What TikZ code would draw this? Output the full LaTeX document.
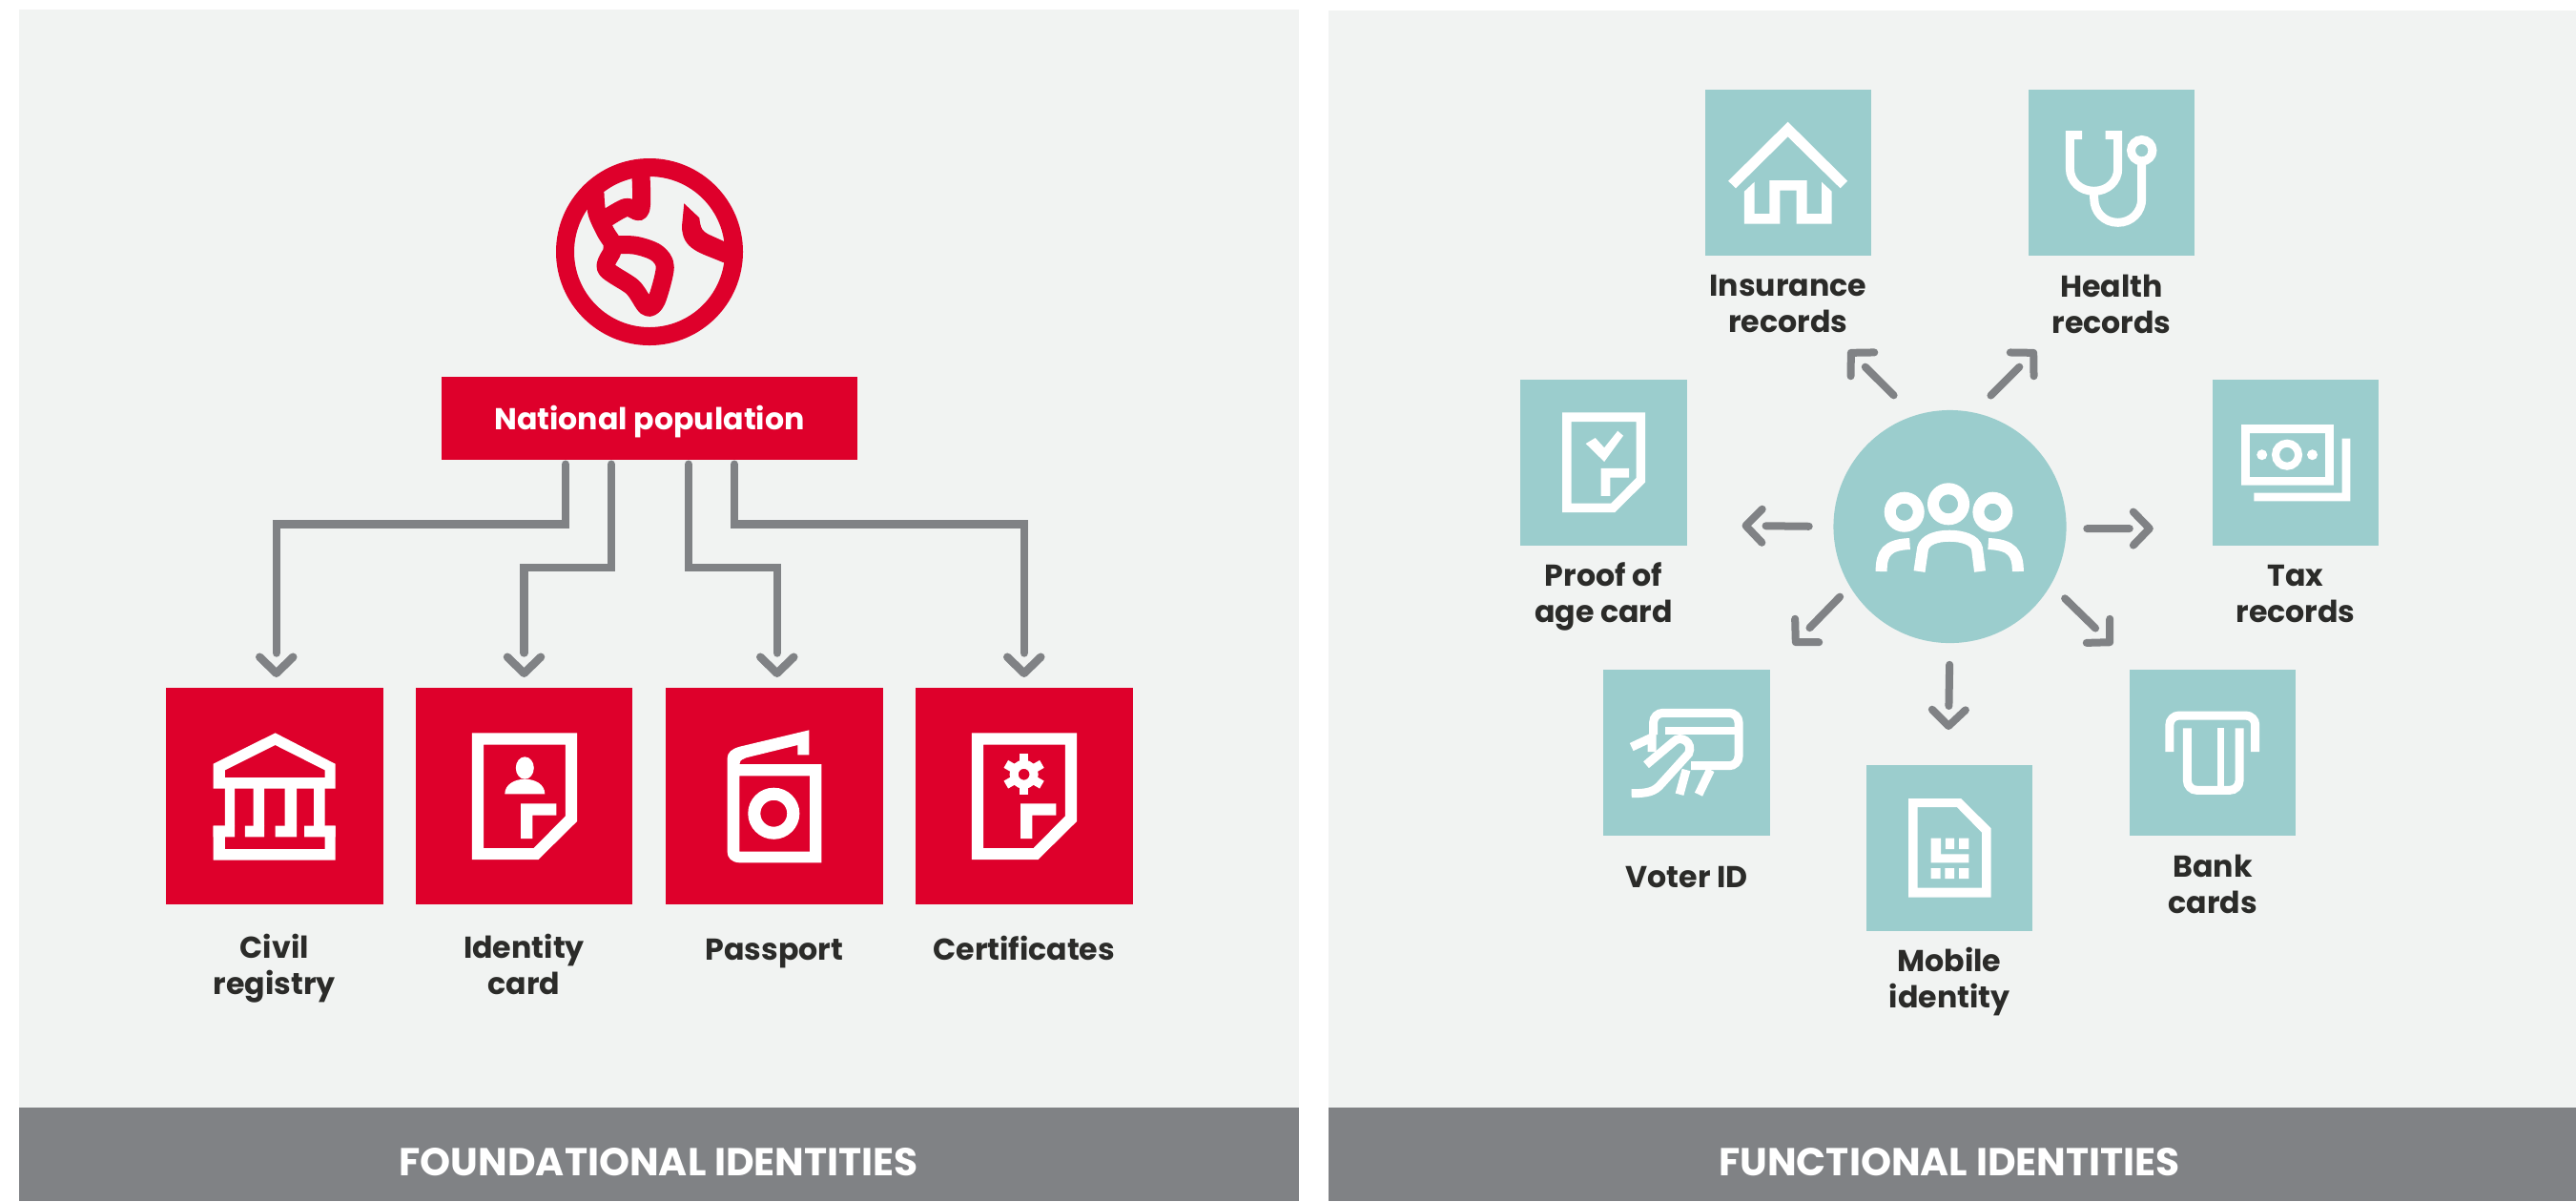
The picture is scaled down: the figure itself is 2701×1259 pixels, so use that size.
\documentclass[tikz,border=0pt]{standalone}
\usepackage{fontspec}
\setmainfont{Poppins}
\usetikzlibrary{arrows.meta, calc, positioning}

\definecolor{panelGray}{HTML}{F1F3F2}
\definecolor{barGray}{HTML}{808285}
\definecolor{idRed}{HTML}{DE002B}
\definecolor{idTeal}{HTML}{9BCDCD}
\definecolor{inkBlack}{HTML}{2B2B29}

\begin{document}
\begin{tikzpicture}[
	x=0.01cm, y=-0.01cm,
	barText/.style={text=white, inner sep=0, font=\bfseries\fontsize{11.6}{13}\selectfont},
	redBox/.style={fill=idRed, minimum size=2.275cm, inner sep=0},
	tealBox/.style={fill=idTeal, minimum size=1.74cm, inner sep=0},
	caption/.style={text=inkBlack, align=center, inner sep=0, font=\bfseries\fontsize{9}{10.8}\selectfont},
	glyph/.style={fill=white, even odd rule},
	glyphLine/.style={draw=white, line width=0.09cm},
	landLine/.style={draw=idRed, line width=0.19cm, line cap=round, line join=round},
	link/.style={draw=barGray, line width=0.085cm, line cap=round, shorten <=0.04cm, shorten >=0.1cm, -{. [sep=0.14cm] Straight Barb[round, length=0.17cm, width=0.35cm]}},
	spoke/.style={draw=barGray, line width=0.08cm, line cap=round, -{. [sep=0.14cm] Straight Barb[round, length=0.17cm, width=0.35cm]}},
	docPage/.pic={
		\fill[glyph] (0,0) -- (110.2,0) -- (110.2,92.7) -- (69.7,132.7) -- (0,132.7) -- cycle
			(12.2,12.4) -- (98.1,12.4) -- (98.1,87) -- (64.9,120.7) -- (12.2,120.7) -- cycle;
		\fill[white] (51.4,74) -- (88.6,74) -- (88.6,86.4) -- (63.6,86.4) -- (63.6,110.7) -- (51.4,110.7) -- cycle;
	}
	]
	\useasboundingbox (0,0) rectangle (2701,1259);
	
	\fill[panelGray] (20,10) rectangle (1361.5,1161);
	\fill[panelGray] (1393,11) rectangle (2701,1161);
	\fill[barGray] (20,1161) rectangle (1361.5,1259);
	\fill[barGray] (1393,1161) rectangle (2701,1259);
	\node[barText] (foundText) at (690.75,1218) {FOUNDATIONAL IDENTITIES};
	\node[barText] (funcText) at (2044,1218) {FUNCTIONAL IDENTITIES};
	
	% Foundational side
	\node[fill=idRed, text=white, minimum width=4.36cm, minimum height=0.87cm, inner sep=0, text height=0.33cm, text depth=0.1cm, font=\bfseries\fontsize{9}{12}\selectfont] (pop) at (681,438.5) {National population};
	\node[redBox] (civil) at (287.75,834.5) {};
	\node[redBox] (idCard) at (549.5,834.5) {};
	\node[redBox] (passport) at (811.75,834.5) {};
	\node[redBox] (certs) at (1073.75,834.5) {};
	
	\node[caption, below=0.29cm of civil] (civilText) {Civil\\registry};
	\node[caption, below=0.29cm of idCard] (idCardText) {Identity\\card};
	\node[caption, below=0.35cm of passport] (passportText) {Passport};
	\node[caption, below=0.31cm of certs] (certsText) {Certificates};
	
	\coordinate (p1) at ($(pop.south)+(-88,0)$);
	\coordinate (p2) at ($(pop.south)+(-40,0)$);
	\coordinate (p3) at ($(pop.south)+(41,0)$);
	\coordinate (p4) at ($(pop.south)+(89,0)$);
	\draw[link] (p1) -- ++(0,66.5) -| ($(civil.north)+(2,0)$);
	\draw[link] (p2) -- ++(0,112) -| (idCard.north);
	\draw[link] (p3) -- ++(0,112) -| ($(passport.north)+(3,0)$);
	\draw[link] (p4) -- ++(0,66.5) -| (certs.north);
	
	% Globe
	\draw[idRed, line width=0.19cm] (681,264) circle[radius=88.5];
	\draw[landLine] plot[smooth] coordinates {(671.7,176.7) (672.7,210) (670,221.7) (656.7,217.3) (636.7,228.3)};
	\draw[landLine] plot[smooth] coordinates {(624,203.3) (626,223.3) (635,243.3) (644,256.7)};
	\draw[landLine] plot[smooth cycle] coordinates {(644,257.3) (666.7,257.3) (688.3,265) (697.3,280) (688.3,315) (678.3,321.7) (663.3,301) (635.7,281.7) (641.7,264)};
	\fill[idRed] (717.3,213.3) -- (733.3,228.3) .. controls (735,245) and (738,243) .. (759,253) -- (772,255) -- (772,278) -- (758,275) .. controls (735,265) and (715,262) .. (715,237) -- cycle;
	
	% Temple
	\fill[glyph] (223.7,800.7) -- (288.6,768.3) -- (351.5,800.7) -- (351.5,826.7) -- (223.7,826.7) -- cycle
		(235.9,807.3) -- (288.6,781) -- (340.7,807.3) -- (340.7,815) -- (235.9,815) -- cycle;
	\fill[white] (235.9,826) rectangle (246,866) (265.6,826) rectangle (277,866) (298.7,826) rectangle (311,866) (329,826) rectangle (340.7,866);
	\fill[white] (223.7,865.7) rectangle (246,877.3) (256.8,865.7) rectangle (277,877.3) (288.6,865.7) rectangle (311,877.3) (319,865.7) rectangle (351.5,877.3);
	\fill[white] (223.7,865.7) rectangle (235.9,890) (340.7,865.7) rectangle (351.5,890) (223.7,890) rectangle (351.5,901.7);
	
	% Identity card
	\pic at (494.8,768.3) {docPage};
	\fill[white] (550.3,805) ellipse[x radius=9.5, y radius=11.7];
	\fill[white] (529.3,832.3) .. controls (529.3,822) and (540,816.7) .. (550.3,816.7) .. controls (561,816.7) and (571.3,822) .. (571.3,832.3) -- cycle;
	
	% Passport
	\fill[glyph] (848.4,765.3) -- (848.4,791.3) -- (836.3,791.3) -- (836.3,781) -- (782.2,794.3) .. controls (776,797) and (775.4,798) .. (775.4,801) -- (861.3,801) -- (861.3,904.3) -- (775.4,904.3) .. controls (767,904) and (762.6,899) .. (762.6,893) -- (762.6,795) .. controls (762.6,789) and (767,785) .. (775.4,782.7) -- cycle
		(775.4,813.3) -- (849,813.3) -- (849,892.7) -- (775.4,892.7) -- cycle;
	\draw[white, line width=0.13cm] (811.3,852.7) circle[radius=20.5];
	
	% Certificate
	\pic at (1018.8,768.3) {docPage};
	\foreach \a in {0,60,...,300}
		\fill[white, rotate around={\a:(1073.6,811.7)}] (1069,790) rectangle (1078.2,800);
	\draw[white, line width=0.09cm] (1073.6,811.7) circle[radius=10.5];
	
	% Functional side
	\node[fill=idTeal, circle, minimum size=2.44cm, inner sep=0] (hub) at (2044.5,552) {};
	\node[tealBox] (insurance) at (1874.75,181) {};
	\node[tealBox] (health) at (2214,181) {};
	\node[tealBox] (proof) at (1681.5,485) {};
	\node[tealBox] (tax) at (2407,485) {};
	\node[tealBox] (voter) at (1768.5,789) {};
	\node[tealBox] (mobile) at (2044,889) {};
	\node[tealBox] (bank) at (2320,789) {};
	
	\node[caption, below=0.19cm of insurance] (insuranceText) {Insurance\\records};
	\node[caption, below=0.19cm of health] (healthText) {Health\\records};
	\node[caption, below=0.16cm of proof] (proofText) {Proof of\\age card};
	\node[caption, below=0.19cm of tax] (taxText) {Tax\\records};
	\node[caption, below=0.305cm of voter] (voterText) {Voter ID};
	\node[caption, below=0.155cm of mobile] (mobileText) {Mobile\\identity};
	\node[caption, below=0.19cm of bank] (bankText) {Bank\\cards};
	
	\coordinate (tipUL) at (1938,367);
	\coordinate (tipUR) at (2135,367);
	\coordinate (tipL) at (1826.5,551);
	\coordinate (tipR) at (2257.8,554);
	\coordinate (tipDL) at (1880,676);
	\coordinate (tipDR) at (2215,676);
	\coordinate (tipD) at (2043,765);
	\draw[spoke, shorten <=0.296cm] (hub.108) -- (tipUL);
	\draw[spoke, shorten <=0.246cm] (hub.78.6) -- (tipUR);
	\draw[spoke, shorten <=0.25cm] (hub.180) -- (tipL);
	\draw[spoke, shorten <=0.21cm] (hub.359) -- (tipR);
	\draw[spoke, shorten <=0.145cm] (hub.211.3) -- (tipDL);
	\draw[spoke, shorten <=0.199cm] (hub.330.7) -- (tipDR);
	\draw[spoke, shorten <=0.22cm] (hub.270) -- (tipD);
	
	% People
	\draw[white, line width=0.12cm] (2043,528.3) circle[radius=16] (1996.7,536.7) circle[radius=15] (2089.4,536.7) circle[radius=15];
	\draw[white, line width=0.12cm] (2012.5,599) -- (2016,575) .. controls (2018,566) and (2030,561.7) .. (2044,561.7) .. controls (2058,561.7) and (2071,566) .. (2073,575) -- (2076,599);
	\draw[white, line width=0.12cm] (1972.6,599) .. controls (1972.6,580) and (1978,571) .. (2002.5,570);
	\draw[white, line width=0.12cm] (2115.8,599) .. controls (2115.8,580) and (2110,571) .. (2084.7,570);
	
	% House
	\fill[white] (1812.1,189.7) -- (1874.6,127.7) -- (1937.1,189.7) -- (1929.6,197.3) -- (1874.6,143.3) -- (1820,197.3) -- cycle;
	\fill[white] (1828.9,200.7) -- (1839.6,190.7) -- (1839.6,224) -- (1855.4,224) -- (1855.4,189) -- (1894.6,189) -- (1894.6,224) -- (1910,224) -- (1910,190.7) -- (1920.7,200.7) -- (1920.7,234.7) -- (1883.6,234.7) -- (1883.6,199.7) -- (1866.4,199.7) -- (1866.4,234.7) -- (1828.9,234.7) -- cycle;
	
	% Stethoscope
	\draw[glyphLine] (2183.2,141.7) -- (2170.4,141.7) -- (2170.4,176.7) .. controls (2170.4,190) and (2181,200.3) .. (2195.6,200.3) .. controls (2210,200.3) and (2220.7,190) .. (2220.7,176.7) -- (2220.7,141.7) -- (2207.5,141.7);
	\draw[glyphLine] (2195.7,200.3) -- (2195.7,208.3) .. controls (2195.7,222) and (2206,233.3) .. (2220.7,233.3) .. controls (2235,233.3) and (2245.7,222) .. (2245.7,208.3) -- (2245.7,168);
	\draw[glyphLine] (2245.7,157.7) circle[radius=11.2];
	
	% Proof of age card
	\pic[scale=0.79] at (1638,432.3) {docPage};
	\fill[white] (1662.7,465) -- (1672.7,459) -- (1682.1,469.3) -- (1696.2,451.7) -- (1702,456.7) -- (1682.1,484) -- cycle;
	
	% Tax notes
	\fill[glyph] (2350,445) rectangle (2446.8,508.7) (2358.8,454) rectangle (2438,500);
	\draw[white, line width=0.08cm] (2398,476.7) circle[radius=12];
	\fill[white] (2371.7,476.7) circle[radius=5.5] (2424.5,476.7) circle[radius=5.5];
	\fill[white] (2363.4,516.7) -- (2455.6,516.7) -- (2455.6,459.7) -- (2464.4,459.7) -- (2464.4,525.3) -- (2363.4,525.3) -- cycle;
	
	% Voter card
	\draw[glyphLine, rounded corners=0.1cm] (1733.6,770) -- (1733.6,747.3) -- (1823,747.3) -- (1823,802.7) -- (1773,802.7);
	\fill[white] (1745.6,761.7) rectangle (1823,770);
	\draw[glyphLine] (1726,801.7) -- (1755,777.3) .. controls (1762,770) and (1776,778) .. (1770.5,790) -- (1741.8,821.7) .. controls (1735,830) and (1727,831.7) .. (1710.7,831.7);
	\draw[glyphLine] (1710.7,783) -- (1732,773) -- (1732,788);
	\draw[glyphLine] (1768,807) -- (1761,832.7);
	\draw[glyphLine] (1793.4,807) -- (1781,832.7);
	
	% SIM
	\fill[glyph] (2001,837) -- (2056,837) -- (2087.7,868.3) -- (2087.7,940.7) -- (2001,940.7) -- cycle
		(2010.7,846) -- (2051.8,846) -- (2078,872.7) -- (2078,930.7) -- (2010.7,930.7) -- cycle;
	\fill[white] (2024.5,878.7) -- (2035,878.7) -- (2035,895.3) -- (2064.3,895.3) -- (2064.3,904.3) -- (2024.5,904.3) -- cycle;
	\fill[white] (2039.9,878.7) rectangle (2049,890) (2054.2,878.7) rectangle (2064.3,890);
	\fill[white] (2024.5,910) rectangle (2034.6,921) (2039.4,910) rectangle (2049,921) (2054.2,910) rectangle (2064.3,921);
	
	% Bank card
	\draw[glyphLine, rounded corners=0.1cm] (2274.8,788) -- (2274.8,750) -- (2364.7,750) -- (2364.7,788);
	\draw[glyphLine, rounded corners=0.1cm] (2293.4,763.3) -- (2293.4,828.3) -- (2348,828.3) -- (2348,763.3);
	\draw[white, line width=0.076cm] (2328.4,763.3) -- (2328.4,828.3);
\end{tikzpicture}
\end{document}
